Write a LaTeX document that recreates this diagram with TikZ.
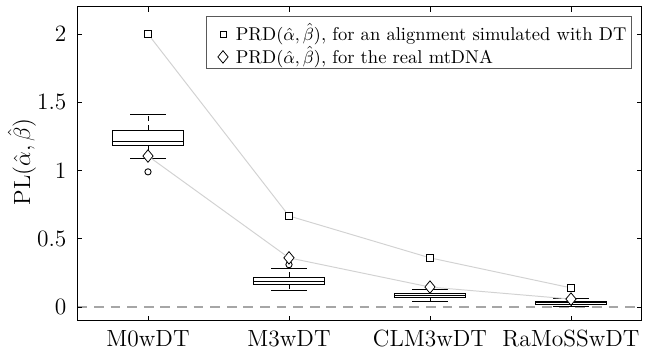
\documentclass[tikz,border=0pt]{standalone}
\usepackage{amsmath}
\usetikzlibrary{shapes.geometric}

\begin{document}
\begin{tikzpicture} [x=2.538cm, y=2.457cm, font=\fontsize{12}{14}\selectfont,
  sq/.style={rectangle, draw, fill=white, inner sep=0pt, minimum size=0.14cm},
  dia/.style={diamond, draw, fill=white, inner sep=0pt, minimum width=0.19cm, minimum height=0.23cm},
  link/.style={gray!35, line width=0.5pt},
  bx/.style={line width=0.45pt},
  legtext/.style={anchor=west, inner sep=0pt, font=\fontsize{9.5}{11}\selectfont}]
\useasboundingbox (-0.0496,-0.3077) rectangle (4.525,2.249);

% zero line and frame
\draw[gray!70, dashed, dash pattern=on 5pt off 3.5pt, line width=0.6pt] (0.5,0) -- (4.5,0);
\draw[line width=0.5pt] (0.5,-0.1) rectangle (4.5,2.2);
\foreach \y in {0, 0.5, 1, 1.5, 2} {
  \draw[line width=0.4pt] (0.5,\y) -- ++(0.035,0) (4.5,\y) -- ++(-0.035,0);
  \node[anchor=east] at (0.47,\y) {$\y$};
}
\foreach \x/\lab in {1/M0wDT, 2/M3wDT, 3/CLM3wDT, 4/RaMoSSwDT} {
  \draw[line width=0.4pt] (\x,-0.1) -- ++(0,0.036) (\x,2.2) -- ++(0,-0.036);
  \node[anchor=base] at (\x,-0.293) {\lab};
}
\node[rotate=90] at (0.106,1.062) {PL$(\hat{\alpha},\hat{\beta})$};

% boxes: x / q1 / median / q3 / low whisker / high whisker
\foreach \x/\qa/\md/\qb/\wl/\wh in {1/1.18/1.216/1.297/1.085/1.41,
    2/0.168/0.19/0.22/0.12/0.286, 3/0.073/0.087/0.1/0.04/0.13,
    4/0.02/0.03/0.04/0.003/0.06} {
  \draw[bx] (\x-0.25,\qa) rectangle (\x+0.25,\qb);
  \draw[bx] (\x-0.25,\md) -- (\x+0.25,\md);
  \draw[bx, dashed, dash pattern=on 2.5pt off 2pt] (\x,\qb) -- (\x,\wh) (\x,\qa) -- (\x,\wl);
  \draw[bx] (\x-0.125,\wh) -- (\x+0.125,\wh) (\x-0.125,\wl) -- (\x+0.125,\wl);
}
\draw[bx] (1,0.99) circle (1.6pt) (2,0.31) circle (1.6pt);

% estimates
\path (1, 2) node[sq] (s1) {}
      (2, 0.667) node[sq] (s2) {}
      (3, 0.36) node[sq] (s3) {}
      (4, 0.14) node[sq] (s4) {};
\path (1, 1.106) node[dia] (d1) {}
      (2, 0.36) node[dia] (d2) {}
      (3, 0.146) node[dia] (d3) {}
      (4, 0.058) node[dia] (d4) {};

\draw[link] (s1) -- (s2) -- (s3) -- (s4);
\draw[link] (d1) -- (d2) -- (d3) -- (d4);

% legend
\draw[gray!70!black, fill=white, line width=0.5pt] (1.418,1.744) rectangle (4.426,2.125);
\path (1.532, 2.0) node[sq, minimum size=0.11cm] (ls) {}
      (1.532, 1.832) node[dia] (ld) {};
\node[legtext] (lt1) at (1.62,2.0) {PRD$(\hat{\alpha},\hat{\beta})$, for an alignment simulated with DT};
\node[legtext] (lt2) at (1.62,1.832) {PRD$(\hat{\alpha},\hat{\beta})$, for the real mtDNA};

\end{tikzpicture}
\end{document}
